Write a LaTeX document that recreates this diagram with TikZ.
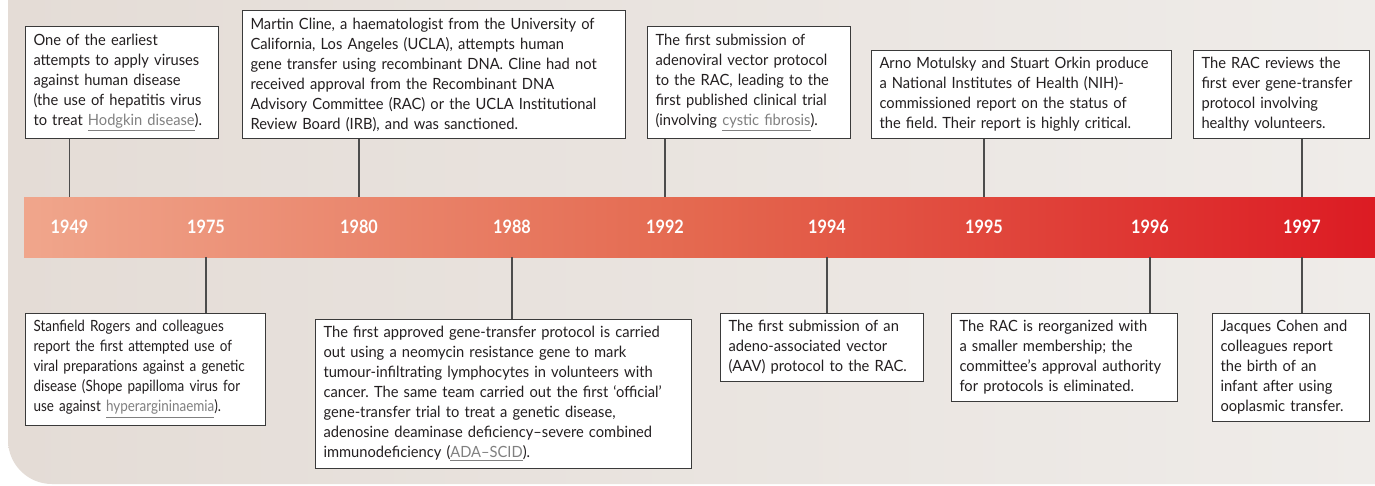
\documentclass[tikz,border=0pt]{standalone}
\usepackage{fontspec}
\setmainfont{Lato}[FakeStretch=0.95]
\newfontfamily\yearfont[FakeStretch=0.88]{Lato}
\newfontfamily\tightfont[FakeStretch=0.87]{Lato}
\usepackage{xcolor}
\definecolor{panelL}{HTML}{E4DCD6}
\definecolor{panelR}{HTML}{EFECE9}
\definecolor{barL}{HTML}{F0A68C}
\definecolor{barM}{HTML}{E4684F}
\definecolor{barR}{HTML}{DC1B23}
\definecolor{boxline}{HTML}{3A3A3A}
\definecolor{inktext}{HTML}{231F20}
\colorlet{linkgray}{black!50}
\colorlet{stemgray}{black!70}
\usepackage{tikz}
\usetikzlibrary{positioning,calc}
\newcommand{\lnk}[1]{{\color{linkgray}\underline{#1}}}
\frenchspacing

\begin{document}
\begin{tikzpicture}[
  x=0.02cm, y=-0.02cm,
  evt/.style={
    rectangle, draw=boxline, fill=white,
    line width=0.6pt,
    inner xsep=0.16cm, inner ysep=0.14cm,
    align=left, text=inktext,
    font=\fontsize{8.8pt}{11.38pt}\selectfont
  },
  bar/.style={
    rectangle, inner sep=0pt,
    minimum width=27.02cm, minimum height=1.2cm,
    left color=barL, right color=barR, middle color=barM
  },
  yr/.style={text=white, font=\yearfont\bfseries\fontsize{10.5pt}{12pt}\selectfont},
  stem/.style={line width=0.6pt, color=stemgray}
]
\fill[white] (0,0) rectangle (1375,485);
\useasboundingbox (0,0) rectangle (1375,485);
\shade[left color=panelL, right color=panelR]
  (1380,-5) -- (8,-5) -- (8,440)
  arc[start angle=180, end angle=270, radius=0.88cm]
  -- (1380,484) -- cycle;

\node[bar] (bar) at (699.5,227) {};
\foreach \yr/\xx in {1949/69.5, 1975/206, 1980/359, 1988/512, 1992/665,
                     1994/827, 1995/984, 1996/1150, 1997/1302}
  \node[yr] (y\yr) at (\xx,227) {\yr};

\node[evt, text width=3.54cm, anchor=south west] (up1949) at (25,139)
  {One of the earliest\\
   attempts to apply viruses\\
   against human disease\\
   (the use of hepatitis virus\\
   to treat \lnk{Hodgkin disease}).};

\node[evt, text width=7.34cm, anchor=south west] (up1980) at (242,139)
  {Martin Cline, a haematologist from the University of\\
   California, Los Angeles (UCLA), attempts human\\
   gene transfer using recombinant DNA. Cline had not\\
   received approval from the Recombinant DNA\\
   Advisory Committee (RAC) or the UCLA Institutional\\
   Review Board (IRB), and was sanctioned.};

\node[evt, text width=3.74cm, anchor=south west] (up1992) at (647,139)
  {The first submission of\\
   adenoviral vector protocol\\
   to the RAC, leading to the\\
   first published clinical trial\\
   (involving \lnk{cystic fibrosis}).};

\node[evt, text width=5.68cm, anchor=south west] (up1995) at (871,139)
  {Arno Motulsky and Stuart Orkin produce\\
   a National Institutes of Health (NIH)-\\
   commissioned report on the status of\\
   the field. Their report is highly critical.};

\node[evt, text width=3.2cm, anchor=south west] (up1997) at (1193,139)
  {The RAC reviews the\\
   first ever gene-transfer\\
   protocol involving\\
   healthy volunteers.};

\node[evt, text width=4.48cm, anchor=north west,
      font=\tightfont\fontsize{8.8pt}{11.38pt}\selectfont] (lo1975) at (25,313)
  {Stanfield Rogers and colleagues\\
   report the first attempted use of\\
   viral preparations against a genetic\\
   disease (Shope papilloma virus for\\
   use against \lnk{hyperargininaemia}).};

\node[evt, text width=7.2cm, anchor=north west] (lo1988) at (315,319)
  {The first approved gene-transfer protocol is carried\\
   out using a neomycin resistance gene to mark\\
   tumour-infiltrating lymphocytes in volunteers with\\
   cancer. The same team carried out the first ‘official’\\
   gene-transfer trial to treat a genetic disease,\\
   adenosine deaminase deficiency–severe combined\\
   immunodeficiency (\lnk{ADA–SCID}).};

\node[evt, text width=3.74cm, anchor=north west] (lo1994) at (720,313)
  {The first submission of an\\
   adeno-associated vector\\
   (AAV) protocol to the RAC.};

\node[evt, text width=4.2cm, anchor=north west] (lo1996) at (951,313)
  {The RAC is reorganized with\\
   a smaller membership; the\\
   committee’s approval authority\\
   for protocols is eliminated.};

\node[evt, text width=2.82cm, anchor=north west] (lo1997) at (1212,313)
  {Jacques Cohen and\\
   colleagues report\\
   the birth of an\\
   infant after using\\
   ooplasmic transfer.};

\foreach \yr in {1949,1980,1992,1995,1997}
  \draw[stem] (up\yr.south -| y\yr) -- (bar.north -| y\yr);
\foreach \yr in {1975,1988,1994,1996,1997}
  \draw[stem] (bar.south -| y\yr) -- (lo\yr.north -| y\yr);
\end{tikzpicture}
\end{document}
